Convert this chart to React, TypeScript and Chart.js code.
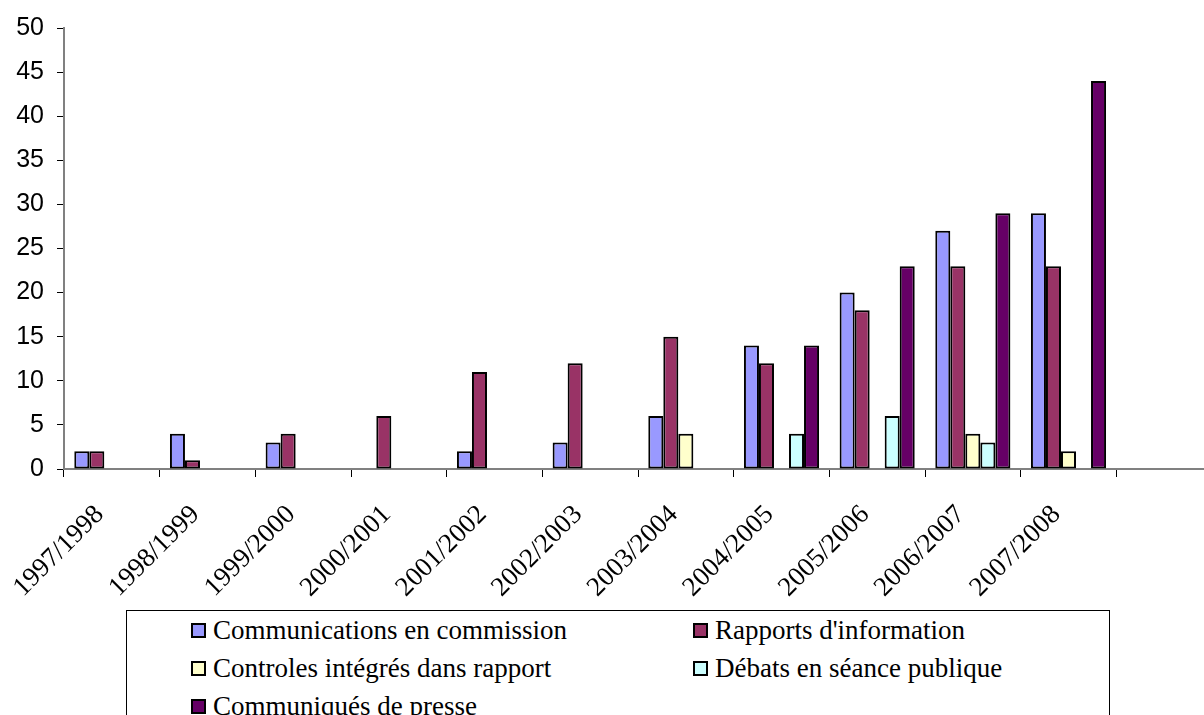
import React, { useEffect, useRef } from "react";
import { Chart, registerables } from "chart.js";

Chart.register(...registerables);

const seasons = [
  "1997/1998", "1998/1999", "1999/2000", "2000/2001", "2001/2002", "2002/2003",
  "2003/2004", "2004/2005", "2005/2006", "2006/2007", "2007/2008",
];
// Excel shows one extra empty category slot at the right edge
const categories = [...seasons, ""];

const communications = [2, 4, 3, null, 2, 3, 6, 14, 20, 27, 29];
const rapports = [2, 1, 4, 6, 11, 12, 15, 12, 18, 23, 23];
const controles = [null, null, null, null, null, null, 4, null, null, 4, 2];
const debats = [null, null, null, null, null, null, null, 4, 6, 3, null];
const communiques = [null, null, null, null, null, null, null, 14, 23, 29, 44];

const seriesNames = [
  "Communications en commission",
  "Rapports d'information",
  "Controles intégrés dans rapport",
  "Débats en séance publique",
  "Communiqués de presse",
];
const seriesColors = ["#9999FF", "#993366", "#FFFFCC", "#CCFFFF", "#660066"];
const yTicks = [0, 5, 10, 15, 20, 25, 30, 35, 40, 45, 50];

const SERIF = "'Liberation Serif', 'Times New Roman', serif";
const SANS = "'Liberation Sans', Arial, sans-serif";

export default function App() {
  const ref = useRef<HTMLCanvasElement | null>(null);

  useEffect(() => {
    document.body.style.margin = "0";
    document.body.style.overflow = "hidden";
    document.documentElement.style.overflow = "hidden";
    const canvas = ref.current;
    if (!canvas) return;
    const values = [communications, rapports, controles, debats, communiques];
    const chart = new Chart(canvas, {
      type: "bar",
      data: {
        labels: categories,
        datasets: values.map((d, i) => ({
          label: seriesNames[i],
          data: d as any,
          backgroundColor: seriesColors[i],
          borderColor: "#000000",
          borderWidth: 2,
          borderSkipped: false,
          categoryPercentage: 0.785,
          barPercentage: 1,
        })),
      },
      options: {
        animation: false,
        responsive: false,
        layout: { padding: { top: 25, right: 18, left: 0, bottom: 0 } },
        plugins: { legend: { display: false }, tooltip: { enabled: false } },
        scales: {
          x: {
            offset: true,
            grid: {
              offset: true,
              drawOnChartArea: false,
              drawTicks: true,
              tickLength: 8,
              color: "#000000",
              lineWidth: 1,
            },
            border: { display: true, color: "#808080", width: 2 },
            ticks: {
              autoSkip: false,
              minRotation: 45,
              maxRotation: 45,
              color: "#000000",
              padding: 22,
              labelOffset: -12,
              font: { family: SERIF, size: 27 },
            },
            afterFit: (scale: any) => {
              scale.height = 246;
            },
          },
          y: {
            min: 0,
            max: 50,
            afterBuildTicks: (scale: any) => {
              scale.ticks = yTicks.map((v) => ({ value: v }));
            },
            grid: {
              drawOnChartArea: false,
              drawTicks: true,
              tickLength: 7,
              color: "#000000",
            },
            border: { display: true, color: "#808080", width: 2 },
            ticks: {
              color: "#000000",
              padding: 13,
              font: { family: SANS, size: 25 },
            },
            afterFit: (scale: any) => {
              scale.width = 64;
            },
          },
        },
      },
    });
    return () => chart.destroy();
  }, []);

  const legendRows: { left: number; top: number; idx: number }[] = [
    { left: 191, top: 630, idx: 0 },
    { left: 693, top: 630, idx: 1 },
    { left: 191, top: 668, idx: 2 },
    { left: 693, top: 668, idx: 3 },
    { left: 191, top: 706, idx: 4 },
  ];

  return (
    <div style={{ position: "relative", width: 1204, height: 715, overflow: "hidden" }}>
      <canvas ref={ref} width={1230} height={715} style={{ width: 1230, height: 715, display: "block" }} />
      <div
        style={{
          position: "absolute",
          left: 126,
          top: 610,
          width: 984,
          height: 140,
          border: "1px solid #000",
          background: "#fff",
          boxSizing: "border-box",
        }}
      />
      {legendRows.map((r) => (
        <div
          key={r.idx}
          style={{
            position: "absolute",
            left: r.left,
            top: r.top - 16,
            height: 32,
            display: "flex",
            alignItems: "center",
            fontFamily: SERIF,
            fontSize: 27,
            color: "#000",
            whiteSpace: "nowrap",
          }}
        >
          <span
            style={{
              display: "inline-block",
              width: 15,
              height: 15,
              boxSizing: "border-box",
              border: "2px solid #000",
              background: seriesColors[r.idx],
              marginRight: 7,
            }}
          />
          <span>{seriesNames[r.idx]}</span>
        </div>
      ))}
    </div>
  );
}
